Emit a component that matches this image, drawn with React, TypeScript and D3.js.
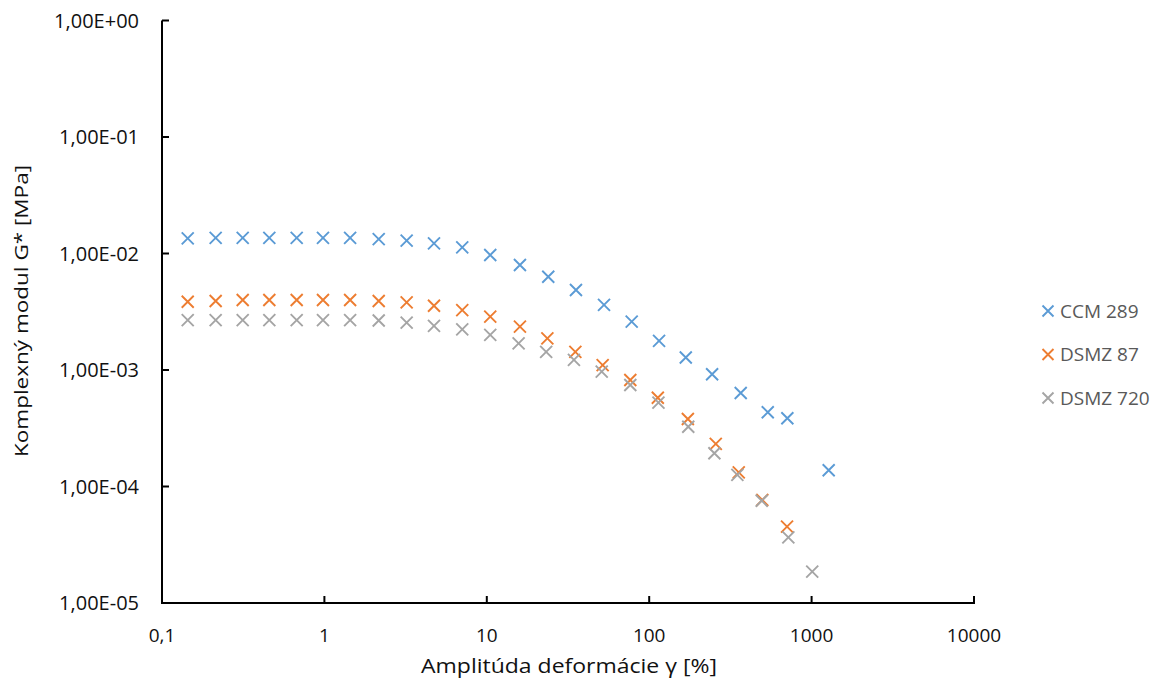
import React from "react";
import * as d3 from "d3";

const xTicks = [0.1, 1, 10, 100, 1000, 10000];
const xTickLabels = ["0,1", "1", "10", "100", "1000", "10000"];
const yTicks = [1e-5, 1e-4, 1e-3, 1e-2, 1e-1, 1];
const yTickLabels = ["1,00E-05", "1,00E-04", "1,00E-03", "1,00E-02", "1,00E-01", "1,00E+00"];

const seriesNames = ["CCM 289", "DSMZ 87", "DSMZ 720"];
const seriesColors = ["#5B9BD5", "#ED7D31", "#A5A5A5"];

const ccmX = [0.144, 0.214, 0.314, 0.458, 0.675, 0.98, 1.44, 2.16, 3.21, 4.73, 7.06, 10.5, 16.0, 23.9, 35.4, 52.7, 78, 115, 168, 244, 366, 537, 709, 1274];
const ccmY = [1.35e-2, 1.36e-2, 1.36e-2, 1.36e-2, 1.36e-2, 1.36e-2, 1.36e-2, 1.33e-2, 1.29e-2, 1.22e-2, 1.13e-2, 9.7e-3, 7.96e-3, 6.32e-3, 4.86e-3, 3.62e-3, 2.6e-3, 1.78e-3, 1.28e-3, 9.19e-4, 6.35e-4, 4.34e-4, 3.85e-4, 1.38e-4];

const d87X = [0.144, 0.214, 0.314, 0.458, 0.675, 0.98, 1.44, 2.16, 3.21, 4.73, 7.06, 10.5, 16.0, 23.6, 35.1, 51.7, 76.5, 113, 173, 257, 356, 497, 706];
const d87Y = [3.85e-3, 3.91e-3, 3.99e-3, 3.99e-3, 3.99e-3, 3.99e-3, 3.99e-3, 3.91e-3, 3.81e-3, 3.56e-3, 3.27e-3, 2.87e-3, 2.36e-3, 1.87e-3, 1.43e-3, 1.1e-3, 8.2e-4, 5.78e-4, 3.8e-4, 2.32e-4, 1.32e-4, 7.66e-5, 4.52e-5];

const d720X = [0.144, 0.214, 0.314, 0.458, 0.675, 0.98, 1.44, 2.16, 3.21, 4.73, 7.06, 10.5, 15.7, 23.2, 34.4, 51.0, 76.5, 114, 174, 252, 349, 493, 719, 1009];
const d720Y = [2.68e-3, 2.68e-3, 2.68e-3, 2.68e-3, 2.68e-3, 2.68e-3, 2.68e-3, 2.66e-3, 2.55e-3, 2.39e-3, 2.23e-3, 2.0e-3, 1.69e-3, 1.43e-3, 1.22e-3, 9.67e-4, 7.43e-4, 5.24e-4, 3.26e-4, 1.93e-4, 1.26e-4, 7.55e-5, 3.66e-5, 1.86e-5];

const seriesX = [ccmX, d87X, d720X];
const seriesY = [ccmY, d87Y, d720Y];

const W = 1167;
const H = 689;

function Cross({ cx, cy, color, r = 6 }: { cx: number; cy: number; color: string; r?: number }) {
  return (
    <path
      d={`M${cx - r},${cy - r}L${cx + r},${cy + r}M${cx - r},${cy + r}L${cx + r},${cy - r}`}
      stroke={color}
      strokeWidth={1.9}
      fill="none"
    />
  );
}

export default function App() {
  const x = d3.scaleLog().domain([0.1, 10000]).range([162, 974]);
  const y = d3.scaleLog().domain([1e-5, 1]).range([603, 20.5]);
  const font = "'Open Sans', 'Liberation Sans', sans-serif";

  return (
    <svg
      width={W}
      height={H}
      style={{ position: "absolute", left: 0, top: 0, background: "#fff" }}
      fontFamily={font}
    >
      <rect x={0} y={0} width={W} height={H} fill="#fff" />
      {/* axes */}
      <line x1={x(0.1)} x2={x(0.1)} y1={y(1)} y2={y(1e-5)} stroke="#000" strokeWidth={2} />
      <line x1={x(0.1) - 1} x2={x(10000) + 1} y1={y(1e-5)} y2={y(1e-5)} stroke="#000" strokeWidth={2} />
      {yTicks.map((t, i) => (
        <g key={"yt" + i}>
          <line x1={x(0.1)} x2={x(0.1) + 7} y1={y(t)} y2={y(t)} stroke="#000" strokeWidth={2} />
          <text x={139} y={y(t)} dy="0.36em" textAnchor="end" fontSize={20} fill="#111">
            {yTickLabels[i]}
          </text>
        </g>
      ))}
      {xTicks.map((t, i) => (
        <g key={"xt" + i}>
          <line x1={x(t)} x2={x(t)} y1={y(1e-5)} y2={y(1e-5) - 7} stroke="#000" strokeWidth={2} />
          <text x={x(t)} y={635} dy="0.36em" textAnchor="middle" fontSize={19} fill="#111">
            {xTickLabels[i]}
          </text>
        </g>
      ))}
      <text x={569} y={666} dy="0.36em" textAnchor="middle" fontSize={20} fill="#111" textLength={296} lengthAdjust="spacingAndGlyphs">
        Amplitúda deformácie γ [%]
      </text>
      <text
        transform={`translate(21,311) rotate(-90)`}
        dy="0.36em"
        textAnchor="middle"
        fontSize={19}
        fill="#111"
        textLength={292}
        lengthAdjust="spacingAndGlyphs"
      >
        Komplexný modul G* [MPa]
      </text>
      {/* series */}
      {seriesX.map((xs, si) => (
        <g key={"s" + si}>
          {xs.map((xv, j) => (
            <Cross key={j} cx={x(xv)} cy={y(seriesY[si][j])} color={seriesColors[si]} />
          ))}
        </g>
      ))}
      {/* legend */}
      {seriesNames.map((n, i) => (
        <g key={"lg" + i}>
          <Cross cx={1048} cy={311 + i * 43.5} color={seriesColors[i]} r={5.5} />
          <text x={1060} y={311 + i * 43.5} dy="0.36em" fontSize={19} fill="#595959">
            {n}
          </text>
        </g>
      ))}
    </svg>
  );
}
